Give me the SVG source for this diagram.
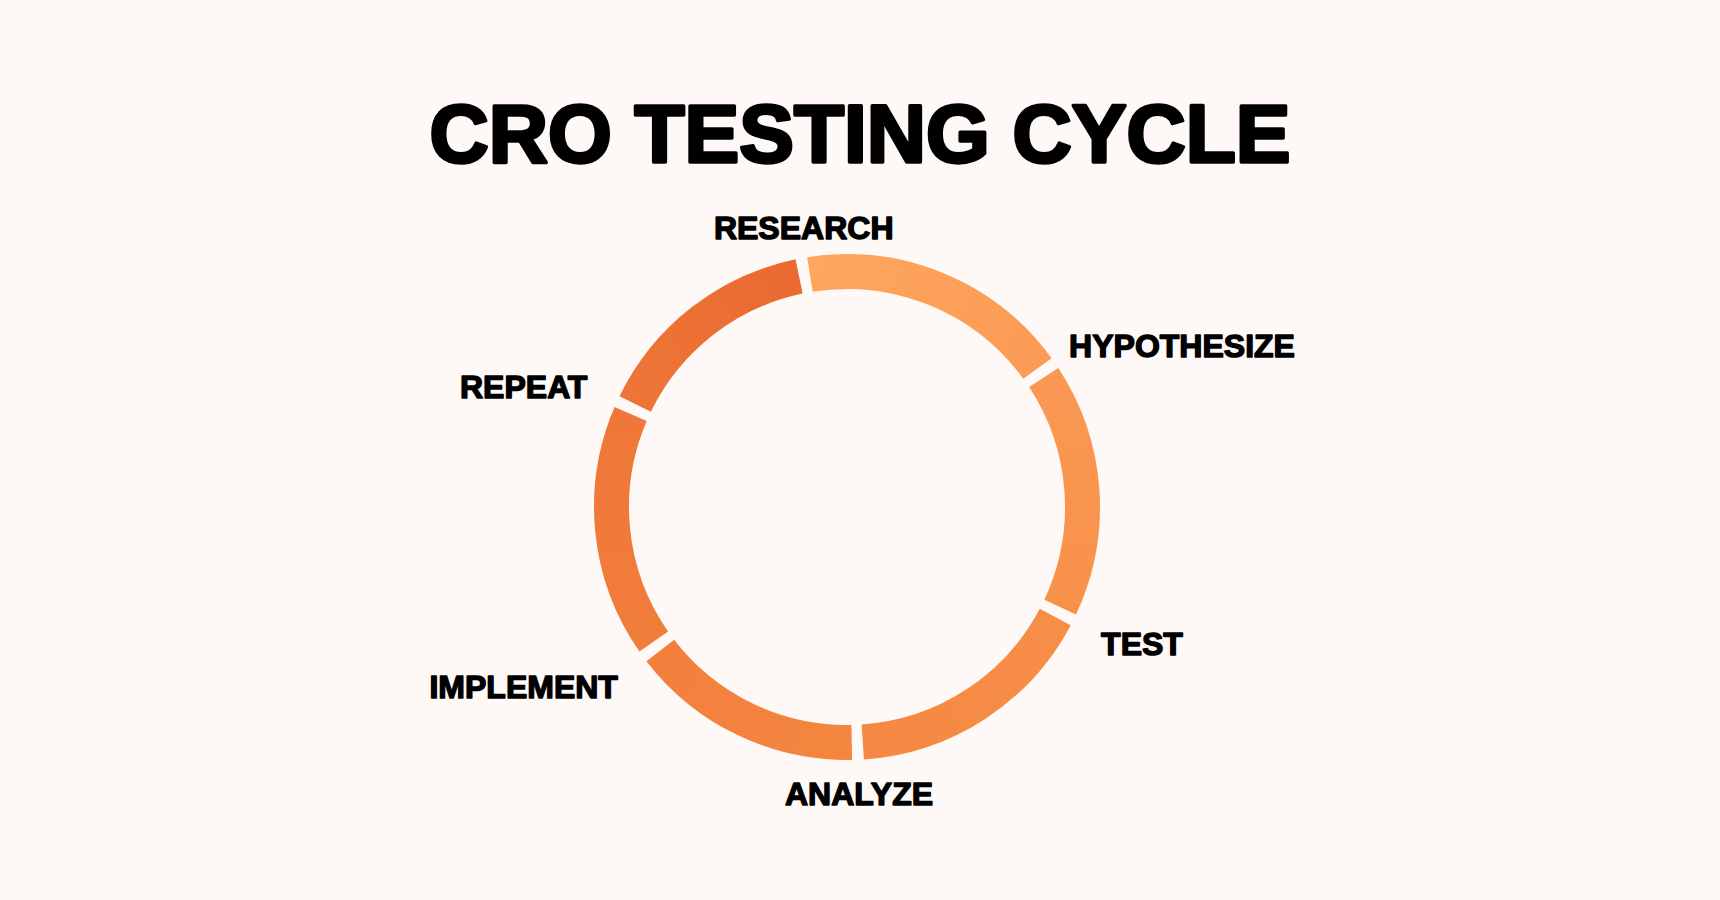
<svg xmlns="http://www.w3.org/2000/svg" width="1720" height="900" viewBox="0 0 1720 900">
  <style>
    .title { font-family: "Liberation Sans", Arial, sans-serif; font-weight: 700; font-size: 82px; fill: #000; stroke: #000; stroke-width: 3.4; stroke-linejoin: round; text-anchor: middle; }
    .label { font-family: "Liberation Sans", Arial, sans-serif; font-weight: 700; font-size: 32px; fill: #000; stroke: #000; stroke-width: 1.4; stroke-linejoin: round; text-anchor: middle; }
    .seg { fill: none; stroke-width: 35; stroke-linecap: butt; }
  </style>
  <defs>
    <linearGradient id="g1" gradientUnits="userSpaceOnUse" x1="809.91" y1="274.44" x2="1037.45" y2="368.48">
      <stop offset="0" stop-color="#FEA65E"/><stop offset="1" stop-color="#FB9B55"/>
    </linearGradient>
    <linearGradient id="g2" gradientUnits="userSpaceOnUse" x1="1043.69" y1="377.50" x2="1060.15" y2="607.13">
      <stop offset="0" stop-color="#FA9853"/><stop offset="1" stop-color="#F8914A"/>
    </linearGradient>
    <linearGradient id="g3" gradientUnits="userSpaceOnUse" x1="1055.25" y1="616.98" x2="862.78" y2="741.98">
      <stop offset="0" stop-color="#F78E47"/><stop offset="1" stop-color="#F58842"/>
    </linearGradient>
    <linearGradient id="g4" gradientUnits="userSpaceOnUse" x1="851.77" y1="742.45" x2="660.27" y2="650.49">
      <stop offset="0" stop-color="#F48640"/><stop offset="1" stop-color="#F2803C"/>
    </linearGradient>
    <linearGradient id="g5" gradientUnits="userSpaceOnUse" x1="653.75" y1="641.59" x2="630.65" y2="414.00">
      <stop offset="0" stop-color="#F17D3B"/><stop offset="1" stop-color="#EF7738"/>
    </linearGradient>
    <linearGradient id="g6" gradientUnits="userSpaceOnUse" x1="635.21" y1="403.97" x2="799.08" y2="276.42">
      <stop offset="0" stop-color="#EE7537"/><stop offset="1" stop-color="#EA6A31"/>
    </linearGradient>
  </defs>
  <rect width="1720" height="900" fill="#FEF9F7"/>
  <text class="title" x="860" y="162">CRO TESTING CYCLE</text>

  <g id="node-hypothesize">
    <path class="seg" stroke="url(#g1)" d="M809.91,274.44 A235.5,235.5 0 0 1 1037.45,368.48"/>
    <text class="label" x="1182" y="356.7">HYPOTHESIZE</text>
  </g>
  <g id="node-test">
    <path class="seg" stroke="url(#g2)" d="M1043.69,377.50 A235.5,235.5 0 0 1 1060.15,607.13"/>
    <text class="label" x="1142" y="655">TEST</text>
  </g>
  <g id="node-analyze">
    <path class="seg" stroke="url(#g3)" d="M1055.25,616.98 A235.5,235.5 0 0 1 862.78,741.98"/>
    <text class="label" x="859" y="805">ANALYZE</text>
  </g>
  <g id="node-implement">
    <path class="seg" stroke="url(#g4)" d="M851.77,742.45 A235.5,235.5 0 0 1 660.27,650.49"/>
    <text class="label" x="523.7" y="698">IMPLEMENT</text>
  </g>
  <g id="node-repeat">
    <path class="seg" stroke="url(#g5)" d="M653.75,641.59 A235.5,235.5 0 0 1 630.65,414.00"/>
    <text class="label" x="523.7" y="398.3">REPEAT</text>
  </g>
  <g id="node-research">
    <path class="seg" stroke="url(#g6)" d="M635.21,403.97 A235.5,235.5 0 0 1 799.08,276.42"/>
    <text class="label" x="803.7" y="238.5">RESEARCH</text>
  </g>
</svg>
